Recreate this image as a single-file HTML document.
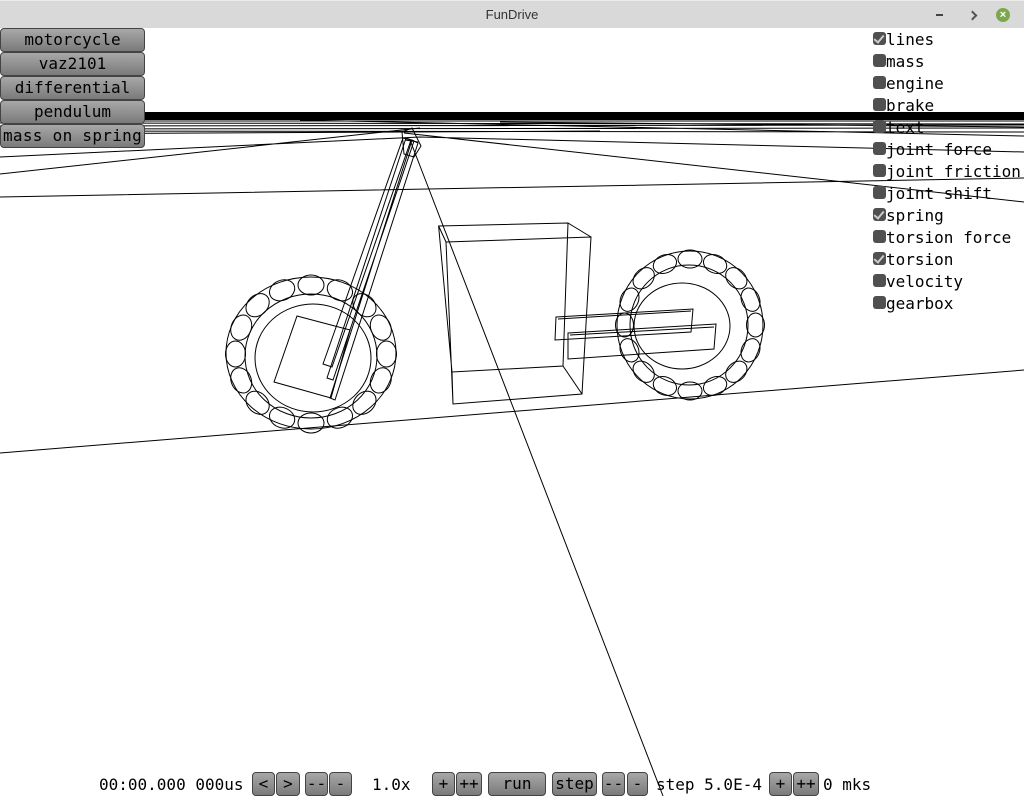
<!DOCTYPE html>
<html><head><meta charset="utf-8"><style>
body{margin:0;width:1024px;height:796px;overflow:hidden;background:#fff;position:relative;font-family:"DejaVu Sans Mono","Liberation Mono",monospace;}
#tb{position:absolute;left:0;top:0;width:1024px;height:28px;background:#d9d9d9;border-top:1px solid #ececec;box-sizing:border-box}
#tb .t{position:absolute;left:0;width:1024px;top:6px;text-align:center;font:13px "Liberation Sans",sans-serif;color:#333}
svg{position:absolute;left:0;top:0}
.b{position:absolute;box-sizing:border-box;border:1px solid #444;border-radius:4px;background:linear-gradient(#a8a8a8,#7a7a7a);color:#000;text-align:center;font-size:16px;line-height:22px}
.l{position:absolute;font-size:16px;line-height:18px;color:#000;white-space:pre}
.c{position:absolute;left:873px;width:13px;height:13px;border-radius:3px;background:#505050}
.c.k::after{content:"";position:absolute;left:3px;top:1px;width:4px;height:8px;border:solid #ccc;border-width:0 2px 2px 0;transform:rotate(40deg)}
</style></head><body>
<svg width="1024" height="796" viewBox="0 0 1024 796" fill="none" stroke="#000" stroke-width="1">
<rect x="0" y="112" width="1024" height="8" fill="#000" stroke="none"/>
<path d="M0 121 L1024 121 M0 123 L1024 124 M0 126 L1024 125 M0 129 L1024 128 M0 131 L1024 132 M0 134 L600 131 M300 120 L1024 136 M500 122 L1024 127"/>
<path d="M0 174 L420 128 M0 197 L1024 178 M0 157 L420 137 L1024 152 M404 133 L1024 202 M0 453 L1024 370 M410 140 L663 796"/>
<!-- box -->
<path d="M438.6 226 L568 223 L563 366 L452 372 Z M446 242 L591 237 L582 394 L453 404 Z M438.6 226 L446 242 M568 223 L591 237 M563 366 L582 394 M452 372 L453 404"/>
<!-- left wheel -->
<ellipse cx="311" cy="353" rx="85" ry="76"/>
<ellipse cx="311" cy="356" rx="66" ry="62"/>
<ellipse cx="313" cy="358" rx="58" ry="54"/>
<g>
<ellipse cx="386.5" cy="354" rx="10" ry="13"/>
<ellipse cx="380.8" cy="380.4" rx="10" ry="13" transform="rotate(22.5 380.8 380.4)"/>
<ellipse cx="364.4" cy="402.8" rx="10" ry="13" transform="rotate(45 364.4 402.8)"/>
<ellipse cx="339.9" cy="417.7" rx="10" ry="13" transform="rotate(67.5 339.9 417.7)"/>
<ellipse cx="311" cy="423" rx="10" ry="13" transform="rotate(90 311 423)"/>
<ellipse cx="282.1" cy="417.7" rx="10" ry="13" transform="rotate(112.5 282.1 417.7)"/>
<ellipse cx="257.6" cy="402.8" rx="10" ry="13" transform="rotate(135 257.6 402.8)"/>
<ellipse cx="241.2" cy="380.4" rx="10" ry="13" transform="rotate(157.5 241.2 380.4)"/>
<ellipse cx="235.5" cy="354" rx="10" ry="13"/>
<ellipse cx="241.2" cy="327.6" rx="10" ry="13" transform="rotate(22.5 241.2 327.6)"/>
<ellipse cx="257.6" cy="305.2" rx="10" ry="13" transform="rotate(45 257.6 305.2)"/>
<ellipse cx="282.1" cy="290.3" rx="10" ry="13" transform="rotate(67.5 282.1 290.3)"/>
<ellipse cx="311" cy="285" rx="10" ry="13" transform="rotate(90 311 285)"/>
<ellipse cx="339.9" cy="290.3" rx="10" ry="13" transform="rotate(112.5 339.9 290.3)"/>
<ellipse cx="364.4" cy="305.2" rx="10" ry="13" transform="rotate(135 364.4 305.2)"/>
<ellipse cx="380.8" cy="327.6" rx="10" ry="13" transform="rotate(157.5 380.8 327.6)"/>
</g>
<path d="M297 316 L350 330 L331 398 L274 382 Z"/>
<!-- fork -->
<path d="M403 138 L411 140 L332 367 L323 364 Z M412 140 L418 143 L335 400 L330 398 Z M406 138 L414 141 L333 380 L327 378 Z"/>
<path d="M402 132 L412 128 L421 146 L414 157 L404 154 Z M405 140 L418 142"/>
<!-- right wheel -->
<ellipse cx="690" cy="325" rx="73" ry="74"/>
<ellipse cx="689" cy="325" rx="59" ry="60"/>
<ellipse cx="682" cy="326" rx="48" ry="43"/>
<g>
<ellipse cx="755.5" cy="325" rx="9" ry="12"/>
<ellipse cx="750.5" cy="350.3" rx="9" ry="12" transform="rotate(22.5 750.5 350.3)"/>
<ellipse cx="736.3" cy="371.7" rx="9" ry="12" transform="rotate(45 736.3 371.7)"/>
<ellipse cx="715.1" cy="386" rx="9" ry="12" transform="rotate(67.5 715.1 386)"/>
<ellipse cx="690" cy="391" rx="9" ry="12" transform="rotate(90 690 391)"/>
<ellipse cx="664.9" cy="386" rx="9" ry="12" transform="rotate(112.5 664.9 386)"/>
<ellipse cx="643.7" cy="371.7" rx="9" ry="12" transform="rotate(135 643.7 371.7)"/>
<ellipse cx="629.5" cy="350.3" rx="9" ry="12" transform="rotate(157.5 629.5 350.3)"/>
<ellipse cx="624.5" cy="325" rx="9" ry="12"/>
<ellipse cx="629.5" cy="299.7" rx="9" ry="12" transform="rotate(22.5 629.5 299.7)"/>
<ellipse cx="643.7" cy="278.3" rx="9" ry="12" transform="rotate(45 643.7 278.3)"/>
<ellipse cx="664.9" cy="264" rx="9" ry="12" transform="rotate(67.5 664.9 264)"/>
<ellipse cx="690" cy="259" rx="9" ry="12" transform="rotate(90 690 259)"/>
<ellipse cx="715.1" cy="264" rx="9" ry="12" transform="rotate(112.5 715.1 264)"/>
<ellipse cx="736.3" cy="278.3" rx="9" ry="12" transform="rotate(135 736.3 278.3)"/>
<ellipse cx="750.5" cy="299.7" rx="9" ry="12" transform="rotate(157.5 750.5 299.7)"/>
</g>
<path d="M556 317 L693 309 L691 332 L555 340 Z M558 319 L691 311 M568 333 L716 324 L714 349 L568 359 Z M570 335 L714 327"/>
</svg>
<div id="tb"><div class="t">FunDrive</div>
<div style="position:absolute;left:936px;top:13px;width:7px;height:2px;background:#444"></div>
<div style="position:absolute;left:969px;top:11px;width:5px;height:5px;border-top:2px solid #555;border-right:2px solid #555;transform:rotate(45deg)"></div>
<div style="position:absolute;left:996px;top:7px;width:14px;height:14px;border-radius:7px;background:#7ba84e;color:#fff;font:bold 11px 'Liberation Sans',sans-serif;text-align:center;line-height:14px">×</div>
</div>
<div class="b" style="left:0;top:28px;width:145px;height:24px">motorcycle</div>
<div class="b" style="left:0;top:52px;width:145px;height:24px">vaz2101</div>
<div class="b" style="left:0;top:76px;width:145px;height:24px">differential</div>
<div class="b" style="left:0;top:100px;width:145px;height:24px">pendulum</div>
<div class="b" style="left:0;top:124px;width:145px;height:24px;letter-spacing:0.3px">mass on spring</div>

<div class="c k" style="top:32px"></div><div class="l" style="left:886px;top:31px">lines</div>
<div class="c" style="top:54px"></div><div class="l" style="left:886px;top:53px">mass</div>
<div class="c" style="top:76px"></div><div class="l" style="left:886px;top:75px">engine</div>
<div class="c" style="top:98px"></div><div class="l" style="left:886px;top:97px">brake</div>
<div class="c" style="top:120px"></div><div class="l" style="left:886px;top:119px">text</div>
<div class="c" style="top:142px"></div><div class="l" style="left:886px;top:141px">joint force</div>
<div class="c" style="top:164px"></div><div class="l" style="left:886px;top:163px">joint friction</div>
<div class="c" style="top:186px"></div><div class="l" style="left:886px;top:185px">joint shift</div>
<div class="c k" style="top:208px"></div><div class="l" style="left:886px;top:207px">spring</div>
<div class="c" style="top:230px"></div><div class="l" style="left:886px;top:229px">torsion force</div>
<div class="c k" style="top:252px"></div><div class="l" style="left:886px;top:251px">torsion</div>
<div class="c" style="top:274px"></div><div class="l" style="left:886px;top:273px">velocity</div>
<div class="c" style="top:296px"></div><div class="l" style="left:886px;top:295px">gearbox</div>

<div class="l" style="left:99px;top:776px">00:00.000 000us</div>
<div class="b" style="left:252px;top:772px;width:23px;height:24px">&lt;</div>
<div class="b" style="left:276px;top:772px;width:24px;height:24px">&gt;</div>
<div class="b" style="left:305px;top:772px;width:23px;height:24px">--</div>
<div class="b" style="left:329px;top:772px;width:23px;height:24px">-</div>
<div class="l" style="left:372px;top:776px">1.0x</div>
<div class="b" style="left:432px;top:772px;width:23px;height:24px">+</div>
<div class="b" style="left:456px;top:772px;width:26px;height:24px">++</div>
<div class="b" style="left:488px;top:772px;width:58px;height:24px">run</div>
<div class="b" style="left:552px;top:772px;width:45px;height:24px">step</div>
<div class="b" style="left:602px;top:772px;width:23px;height:24px">--</div>
<div class="b" style="left:627px;top:772px;width:21px;height:24px">-</div>
<div class="l" style="left:656px;top:776px">step 5.0E-4</div>
<div class="b" style="left:769px;top:772px;width:23px;height:24px">+</div>
<div class="b" style="left:793px;top:772px;width:26px;height:24px">++</div>
<div class="l" style="left:823px;top:776px">0 mks</div>
</body></html>
